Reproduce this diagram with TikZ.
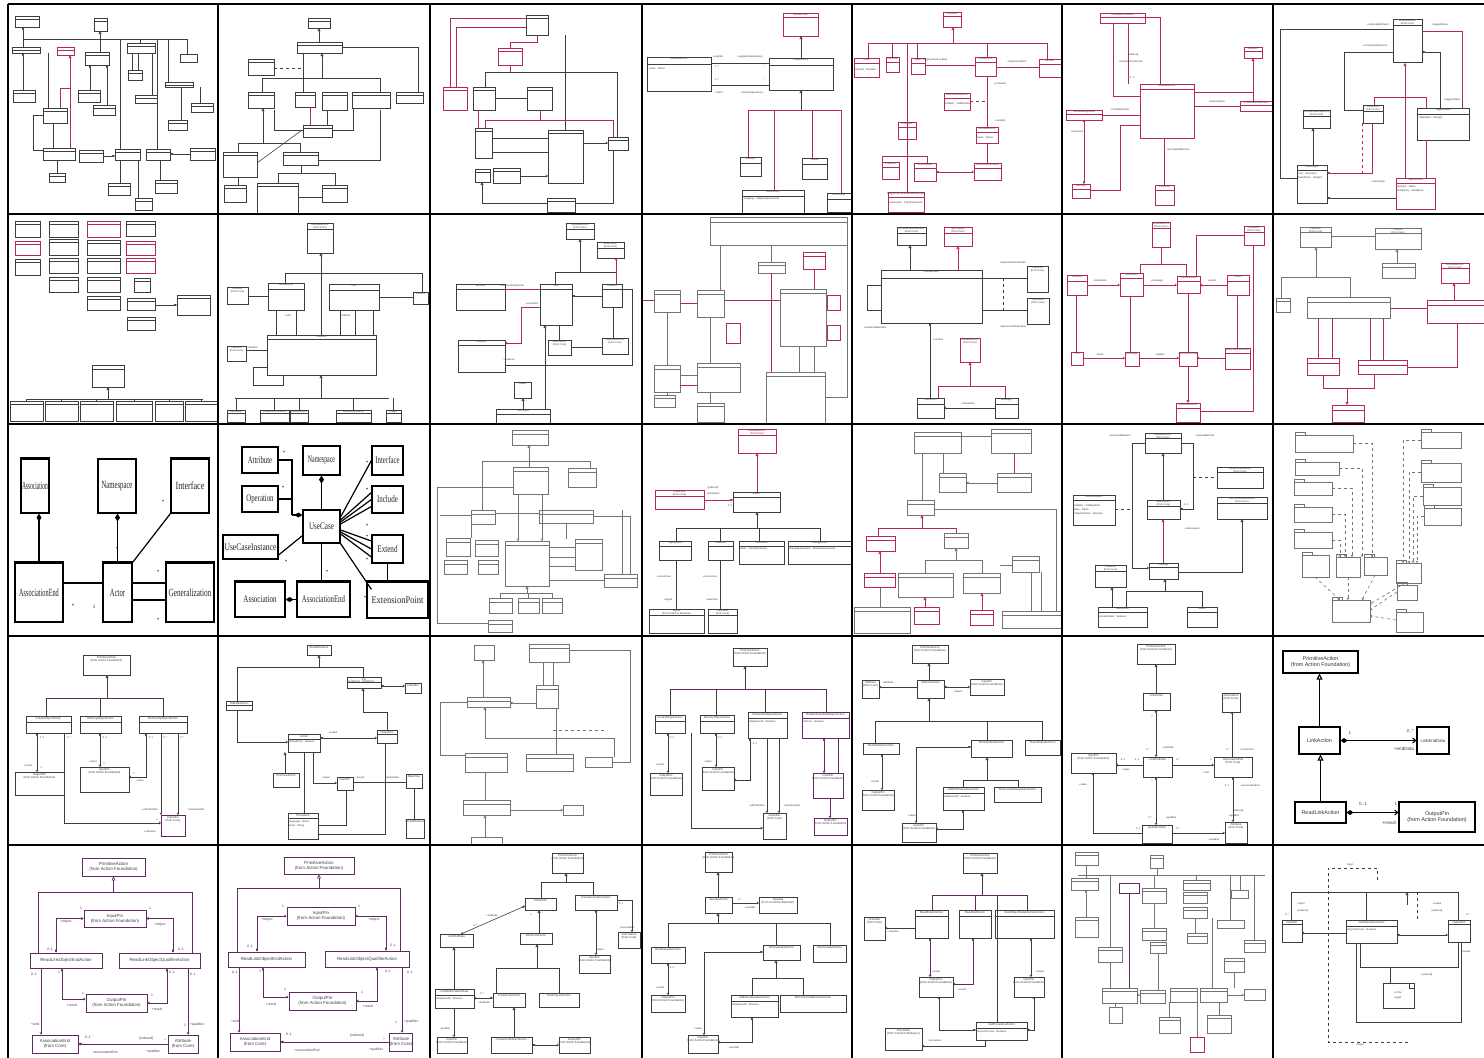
\documentclass[tikz,border=0pt]{standalone}
\usepackage{fontspec}
\usepackage{graphicx}
\setmainfont{Liberation Sans}
\newfontfamily\tnr{Liberation Serif}
\usetikzlibrary{arrows.meta}
\definecolor{lc}{RGB}{62,62,62}
\definecolor{pk}{RGB}{178,42,86}
\definecolor{pu}{RGB}{96,42,96}
\definecolor{lg}{RGB}{115,115,115}
\newcount\bxn
\def\lbfont{\fontsize{2.6}{2.9}\selectfont}
\newcommand\bx[6][]{\global\advance\bxn by 1\relax
  \node[ub,#1,minimum width={(#4-(#2))*1pt},minimum height={(#5-(#3))*1pt},label={[lb]north:{#6}}] (b\the\bxn) at ({(#2+#4)/2},{(#3+#5)/2}) {};}
\newcommand\ml[4][]{\global\advance\bxn by 1\relax\node[mlb,#1] (t\the\bxn) at (#2,#3) {#4};}
\newcommand\pkg[4]{\bx[lgb]{#1}{#2}{#3}{#4}{}\draw[gl] (#1,#2) rectangle ({#1+10},{#2-3});}
\newcommand\sx[2]{\scalebox{#1}[1]{#2}}
\tikzset{
  ub/.style={draw=lc,line width=0.65pt,inner sep=0pt,outer sep=0pt},
  pkb/.style={draw=pk},
  pub/.style={draw=pu},
  lgb/.style={draw=lg},
  lb/.style={font=\lbfont,anchor=north,inner sep=0.7pt,text=lc,align=center},
  mlb/.style={font=\fontsize{2.6}{2.9}\selectfont,inner sep=0pt,text=lc},
  cpx/.style n args={2}{path picture={\draw[line width=0.45pt,#1] ([yshift=-#2]path picture bounding box.north west) -- ([yshift=-#2]path picture bounding box.north east);}},
  cp/.style={cpx={lc}{#1}}, cp/.default=5pt,
  cpp/.style={cpx={pk}{#1}}, cpp/.default=5pt,
  cpu/.style={cpx={pu}{#1}}, cpu/.default=5pt,
  cpg/.style={cpx={lg}{#1}}, cpg/.default=4pt,
  ul/.style={draw=lc,line width=0.6pt},
  pl/.style={draw=pk,line width=0.65pt},
  vl/.style={draw=pu,line width=0.65pt},
  gl/.style={draw=lg,line width=0.6pt},
  tg/.style={-{Triangle[open,length=3pt,width=3pt]}},
  dm/.style={{Diamond[length=3.5pt,width=2.2pt]}-},
  dme/.style={-{Diamond[length=3.5pt,width=2.2pt]}},
  ar/.style={-{Straight Barb[length=1.6pt,width=2.2pt]}},
  dma/.style={{Diamond[length=3.5pt,width=2.2pt]}-{Straight Barb[length=1.6pt,width=2.2pt]}},
  bb/.style={draw=black,line width=1.2pt,inner sep=0pt,font=\tnr\fontsize{11}{12}\selectfont,text=black!85},
  bb2/.style={bb,font=\tnr\fontsize{10}{11}\selectfont},
  cl/.style={draw=black,line width=1.2pt},
  dmb/.style={{Diamond[length=8pt,width=5pt]}-},
  st/.style={font=\tnr\fontsize{5}{5}\selectfont,inner sep=0pt},
  bk/.style={draw=black,line width=1.1pt,inner sep=0pt,font=\fontsize{5.4}{6}\selectfont,align=center,text=black!80},
  bv/.style={draw=pu,line width=0.9pt,inner sep=0pt,font=\fontsize{4.4}{4.9}\selectfont,align=center,text=black!75},
  st5/.style={font=\fontsize{3.4}{3.6}\selectfont,inner sep=0pt,text=black!75},
  grid/.style={draw=black,line width=2.2pt},
}
\begin{document}
\begin{tikzpicture}[x=1pt,y=-1pt]
\useasboundingbox (0,0) rectangle (1484,1058);
\fill[white] (0,0) rectangle (1484,1058);

% ================= ROW 1 =================
% r1c1
\bx[cp=3pt]{15}{16}{39}{27}{}
\bx[cp=3pt]{94}{18}{107}{31}{}
\bx[cp=3pt]{12}{47}{40}{53}{}
\bx[pkb,cpp=3pt]{57}{47}{74}{55}{}
\bx[cp=3pt,line width=0.9pt]{85}{52}{109}{65}{}
\bx[cp=3pt]{127}{43}{155}{53}{}
\bx{180}{54}{197}{62}{}
\bx[cp=3pt]{128}{70}{142}{80}{}
\bx[cp=3pt]{13}{90}{35}{102}{}
\bx[cp=3pt]{78}{90}{100}{102}{}
\bx[cp=3pt]{93}{105}{115}{115}{}
\bx[cp=3pt]{135}{95}{157}{103}{}
\bx[cp=3pt]{165}{82}{193}{87}{}
\bx[cp=3pt]{191}{103}{213}{112}{}
\bx[cp=3pt]{43}{108}{67}{123}{}
\bx[cp=3pt]{168}{120}{187}{130}{}
\bx[cp=3pt,line width=0.9pt]{43}{148}{75}{160}{}
\bx[cp=3pt]{79}{150}{103}{162}{}
\bx[cp=3pt]{115}{149}{140}{160}{}
\bx[cp=3pt]{146}{149}{170}{160}{}
\bx[cp=3pt]{190}{148}{215}{160}{}
\bx[cp=3pt]{49}{173}{65}{182}{}
\bx[cp=3pt]{108}{183}{130}{195}{}
\bx[cp=3pt]{155}{180}{177}{193}{}
\bx[cp=3pt]{135}{198}{152}{210}{}
\draw[ul] (23,39) -- (187,39);
\draw[ul,dm] (23,27)--(23,47);
\draw[ul,tg] (100,52)--(100,31);
\draw[ul] (120,39)--(120,149) (157,39)--(157,149) (168,39)--(168,82) (187,39)--(187,54) (140,39)--(140,43);
\draw[ul,dm] (23,53)--(23,90);
\draw[ul] (48,53)--(48,108) (53,123)--(53,148);
\draw[pl,tg] (70,148)--(70,55);
\draw[pl] (60,88)--(70,88) (60,88)--(60,108);
\draw[ul,dm] (90,65)--(90,90);
\draw[ul,dm] (107,65)--(107,105);
\draw[ul] (132,53)--(132,70) (138,53)--(138,70) (152,53)--(152,95);
\draw[ul] (181,87)--(181,120) (200,87)--(200,103);
\draw[ul,dme] (103,156)--(115,156);
\draw[ul,dme] (190,154)--(170,154);
\draw[ul] (120,160)--(120,183) (138,160)--(138,198) (160,160)--(160,180) (57,160)--(57,173);
\draw[ul] (43,115)--(33,115)--(33,150)--(43,150);

% r1c2
\bx[cp=3pt]{308}{18}{330}{28}{}
\bx[cp=3pt]{297}{42}{342}{53}{}
\bx[cp=3pt,line width=0.9pt]{248}{59}{274}{75}{}
\bx[cp=3pt]{248}{92}{274}{108}{}
\bx[cp=3pt]{295}{92}{315}{107}{}
\bx[cp=3pt]{322}{92}{347}{110}{}
\bx[cp=3pt]{352}{92}{390}{108}{}
\bx[cp=3pt]{396}{92}{423}{103}{}
\bx[cp=3pt]{303}{125}{332}{137}{}
\bx[cp=3pt]{223}{152}{257}{177}{}
\bx[cp=3pt]{283}{152}{318}{165}{}
\bx[cp=3pt]{224}{185}{246}{202}{}
\bx[cp=3pt]{257}{183}{298}{213}{}
\bx[cp=3pt]{322}{185}{347}{202}{}
\draw[ul,tg] (319,42)--(319,28);
\draw[ul] (342,47)--(418,47)--(418,92);
\draw[ul,dashed] (274,68)--(303,68);
\draw[ul] (262,78)--(380,78) (262,78)--(262,92) (380,78)--(380,92) (303,53)--(303,92);
\draw[ul,tg] (322,78)--(322,53);
\draw[pl] (310,107)--(310,125);
\draw[ul] (327,110)--(327,125);
\draw[ul,tg] (263,143)--(263,108);
\draw[ul] (274,110)--(274,130)--(303,130) (353,108)--(353,130)--(332,130) (380,110)--(380,160)--(318,160);
\draw[ul] (238,143)--(300,143) (238,143)--(238,152) (300,143)--(300,152);
\draw[ul] (257,163)--(302,130);
\draw[ul] (238,177)--(238,185) (301,165)--(301,173) (278,173)--(335,173) (278,173)--(278,183) (335,173)--(335,185) (298,197)--(322,197);

% r1c3
\bx[cp=3pt]{526}{15}{548}{35}{}
\bx[pkb,cpp=3pt]{498}{48}{522}{65}{}
\bx[pkb,cpp=3pt]{443}{87}{467}{110}{}
\bx[cp=3pt]{473}{87}{495}{110}{}
\bx[cp=3pt]{527}{87}{552}{110}{}
\bx[cp=3pt]{475}{128}{492}{158}{}
\bx[cp=3pt]{548}{130}{583}{183}{}
\bx[cp=3pt]{608}{137}{628}{150}{}
\bx[cp=3pt]{475}{169}{490}{182}{}
\bx[cp=3pt]{493}{168}{520}{183}{}
\bx[cp=3pt]{547}{198}{575}{212}{}
\draw[pl] (526,18)--(450,18)--(450,87) (526,27)--(456,27)--(456,87);
\draw[pl] (537,35)--(537,42)--(510,42)--(510,48);
\draw[ul] (565,35)--(565,130);
\draw[pl] (510,65)--(510,72);
\draw[ul] (510,72)--(485,72)--(485,87) (510,72)--(617,72)--(617,137);
\draw[ul] (495,98)--(527,98);
\draw[pl] (478,110)--(478,128);
\draw[pl] (540,110)--(540,120)--(485,120)--(485,128) (540,120)--(613,120)--(613,137);
\draw[ul] (492,138)--(548,138) (492,152)--(548,152);
\draw[ul,ar] (583,143)--(608,143);
\draw[ul,ar] (520,176)--(548,176);
\draw[ul,tg] (547,203)--(482,203)--(482,182);
\draw[ul] (575,203)--(613,203)--(613,150);

% r1c4
\bx[pkb,cpp=4pt]{783}{13}{818}{36}{Relationship}
\bx[cp=7pt]{647}{57}{711}{91}{ModelElement}
\ml[anchor=west]{649}{69}{name : Name}
\bx[cp=7pt]{769}{58}{833}{90}{Dependency}
\bx[cp=6pt]{740}{157}{761}{176}{Binding}
\bx[cp=6pt]{742}{190}{804}{213}{Abstraction}
\ml[anchor=west]{744}{199}{mapping : MappingExpression}
\bx[cp=6pt]{802}{158}{827}{179}{Usage}
\bx[cp=6pt]{827}{193}{851}{212}{Permission}
\draw[ul,tg] (801,58)--(801,36);
\draw[ul] (711,63)--(769,63) (711,85)--(769,85);
\draw[ul,tg] (801,110)--(801,90);
\draw[pl] (748,110)--(841,110) (748,110)--(748,157) (774,110)--(774,190) (812,110)--(812,158) (841,110)--(841,193);
\ml{718}{57}{+supplier}
\ml{750}{57}{+supplierDependency}
\ml{717}{67}{1..*}
\ml{764}{67}{*}
\ml{717}{80}{1..*}
\ml{764}{80}{*}
\ml{719}{93}{+client}
\ml{752}{93}{+clientDependency}

% r1c5
\bx[pkb,cpp=4pt]{943}{12}{961}{27}{Classifier}
\bx[pkb,cpp=5pt]{854}{58}{879}{77}{Class}
\ml[anchor=west]{855}{70}{isActive : Boolean}
\bx[pkb,cpp=5pt]{886}{57}{899}{72}{Interface}
\bx[pkb,cpp=5pt]{911}{58}{925}{74}{Node}
\bx[pkb,cpp=5pt]{975}{57}{996}{76}{Component}
\bx[pkb,cpp=5pt]{1039}{59}{1061}{77}{Artifact}
\bx[pkb,cpp=5pt]{944}{93}{970}{110}{ElementResidence}
\ml[anchor=west]{945}{104}{visibility : VisibilityKind}
\bx[pkb,cpp=5pt]{976}{127}{998}{143}{ModelElement}
\ml[anchor=west]{977}{138}{name : Name}
\bx[pkb,cpp=5pt]{898}{122}{916}{139}{DataType}
\bx[pkb,cpp=5pt]{882}{162}{899}{179}{Primitive}
\bx[pkb,cpp=5pt]{914}{163}{936}{181}{Enumeration}
\bx[pkb,cpp=5pt]{974}{163}{1001}{180}{EnumerationLiteral}
\bx[pkb,cpp=5pt]{888}{192}{924}{212}{ProgrammingLanguageDataType}
\ml[anchor=west]{889}{203}{expression : TypeExpression}
\draw[pl,tg] (953,43)--(953,27);
\draw[pl] (868,43)--(1047,43) (868,43)--(868,58) (892,43)--(892,57) (907,43)--(907,192) (917,43)--(917,58) (987,43)--(987,57) (1047,43)--(1047,59);
\draw[pl] (925,65)--(975,65) (996,67)--(1039,67);
\draw[pl] (987,77)--(987,127);
\draw[pl,dashed] (970,101)--(987,101);
\draw[pl] (882,156)--(927,156) (882,156)--(882,162) (927,156)--(927,163);
\draw[pl,dma] (936,172)--(974,172);
\draw[pl] (987,143)--(987,163);
\ml{935}{60}{+deploymentLocation}
\ml{1017}{62}{+implementation}
\ml{1000}{84}{+container}
\ml{1000}{121}{+resident}

% r1c6
\bx[pkb,cpp=4pt]{1100}{13}{1145}{23}{TemplateParameter}
\bx[pkb,cpp=4pt]{1244}{47}{1262}{58}{Element}
\bx[pkb,cpp=5pt]{1140}{84}{1194}{138}{ModelElement}
\bx[pkb,cpp=4pt]{1066}{110}{1102}{120}{TemplateArgument}
\bx[pkb,cpp=4pt]{1240}{101}{1272}{111}{PresentationElement}
\bx[pkb,cpp=5pt]{1072}{184}{1090}{198}{Binding}
\bx[pkb,cpp=5pt]{1155}{185}{1174}{205}{Comment}
\draw[pl] (1113,23)--(1113,96)--(1140,96);
\draw[pl] (1128,23)--(1128,84);
\draw[pl] (1145,17)--(1160,17)--(1160,84);
\draw[pl,tg] (1194,92)--(1253,92)--(1253,58);
\draw[pl] (1253,92)--(1253,101);
\draw[pl] (1194,106)--(1240,106);
\draw[pl] (1102,115)--(1140,115);
\draw[pl,dma] (1084,184)--(1084,120);
\draw[pl] (1090,190)--(1120,190)--(1120,125)--(1140,125);
\draw[pl] (1164,185)--(1164,138);
\ml{1133}{55}{[ordered]}
\ml{1131}{62}{+templateParameter}
\ml{1132}{78}{0..1}
\ml{1150}{10}{*}
\ml{1120}{110}{+modelElement}
\ml{1217}{102}{+presentation}
\ml{1077}{132}{+argument}
\ml{1178}{150}{+annotatedElement}

% r1c7
\bx[cp=6pt]{1393}{19}{1422}{62}{ModelElement\\(from Core)}
\bx[cp=6pt]{1363}{105}{1383}{123}{Constraint\\(from Core)}
\bx[cp=6pt]{1417}{108}{1469}{140}{TaggedValue}
\ml[anchor=west]{1419}{118}{dataValue : String[*]}
\bx[cp=6pt]{1303}{110}{1330}{128}{GeneralizableElement\\(from Core)}
\bx[cp=5pt]{1297}{165}{1327}{203}{Stereotype}
\ml[anchor=west]{1298}{174}{icon : Geometry}
\ml[anchor=west]{1298}{178}{baseClass : Name[*]}
\bx[pkb,cpp=5pt]{1396}{178}{1435}{209}{TagDefinition}
\ml[anchor=west]{1397}{187}{tagType : Name}
\ml[anchor=west]{1397}{191}{multiplicity : Multiplicity}
\draw[pl] (1422,31)--(1462,31)--(1462,108);
\draw[ul] (1393,29)--(1280,29)--(1280,178)--(1297,178);
\draw[ul] (1393,52)--(1344,52)--(1344,110)--(1363,110);
\draw[ul,dm] (1422,52)--(1440,52)--(1440,108);
\draw[pl,tg] (1405,178)--(1405,63);
\draw[pl] (1374,105)--(1374,97)--(1426,97)--(1426,108);
\draw[ul,tg] (1313,165)--(1313,128);
\draw[pl,dashed] (1362,123)--(1362,173);
\draw[pl,dm] (1327,173)--(1372,173)--(1372,123);
\draw[pl] (1426,140)--(1426,178);
\draw[ul,dm] (1327,198)--(1396,198);
\ml{1378}{25}{+extendedElement}
\ml{1440}{25}{+taggedValue}
\ml{1375}{46}{+constrainedElement}
\ml{1452}{100}{+taggedValue}
\ml{1378}{182}{+stereotype}

% ================= ROW 2 =================
% r2c1
\bx[cp=3pt]{15}{221}{40}{237}{}
\bx[cp=3pt]{49}{221}{78}{237}{}
\bx[pkb,cpp=3pt]{87}{221}{120}{237}{}
\bx[cp=3pt]{126}{221}{155}{236}{}
\bx[pkb,cpp=3pt]{15}{241}{40}{255}{}
\bx[cp=3pt]{49}{239}{78}{255}{}
\bx[cp=3pt]{87}{240}{120}{255}{}
\bx[pkb,cpp=3pt]{126}{241}{155}{255}{}
\bx[cp=3pt]{15}{259}{40}{275}{}
\bx[cp=3pt]{49}{258}{78}{273}{}
\bx[cp=3pt]{87}{258}{120}{273}{}
\bx[pkb,cpp=3pt]{126}{258}{155}{273}{}
\bx[cp=3pt]{49}{277}{78}{292}{}
\bx[cp=3pt]{87}{277}{120}{292}{}
\bx[cp=3pt]{134}{278}{150}{292}{}
\bx[cp=3pt]{87}{296}{120}{310}{}
\bx[cp=3pt]{127}{298}{155}{310}{}
\bx[cp=3pt]{177}{295}{210}{315}{}
\bx[cp=3pt]{127}{317}{155}{330}{}
\bx[cp=4pt]{92}{365}{124}{387}{}
\bx[cp=3pt]{10}{401}{43}{421}{}
\bx[cp=3pt]{45}{401}{78}{421}{}
\bx[cp=3pt]{80}{401}{113}{421}{}
\bx[cp=3pt]{116}{401}{152}{421}{}
\bx[cp=3pt]{155}{401}{183}{421}{}
\bx[cp=3pt]{185}{401}{218}{421}{}
\draw[ul,dme] (155,305)--(177,305);
\draw[ul,tg] (108,399)--(108,387);
\draw[ul] (26,399)--(203,399);
\foreach \x in {26,61,96,134,169,201} \draw[ul] (\x,399)--(\x,401);

% r2c2
\bx[cp=6pt]{307}{223}{333}{253}{ModelElement\\(from Core)}
\bx[cp=6pt]{268}{283}{304}{310}{AttributeLink}
\bx[cp=6pt]{329}{284}{379}{310}{Link}
\bx{413}{292}{428}{304}{LinkEnd}
\bx{227}{287}{248}{304}{Attribute\\(from Core)}
\bx[cp=4pt]{267}{335}{376}{375}{Instance}
\bx{227}{346}{246}{361}{Classifier\\(from Core)}
\bx[cp=3pt]{227}{410}{245}{422}{DataValue}
\bx[cp=3pt]{260}{410}{289}{422}{ComponentInstance}
\bx[cp=3pt]{290}{410}{308}{422}{NodeInstance}
\bx[cp=3pt]{336}{410}{371}{422}{UseCaseInstance}
\bx[cp=3pt]{386}{410}{401}{422}{Object}
\draw[ul,tg] (321,273)--(321,253);
\draw[ul] (285,273)--(422,273) (285,273)--(285,283) (422,273)--(422,292) (321,273)--(321,335);
\draw[ul,tg] (321,398)--(321,375);
\draw[ul] (235,398)--(389,398);
\foreach \x in {236,274,299,353,393} \draw[ul] (\x,398)--(\x,410);
\draw[ul] (248,296)--(268,296) (379,297)--(413,297);
\draw[ul] (276,310)--(276,335) (296,310)--(296,335) (340,310)--(340,335) (355,310)--(355,335) (373,310)--(373,335);
\draw[ul] (246,350)--(267,350);
\draw[ul] (267,367)--(253,367)--(253,385)--(283,385)--(283,375);
\ml{288}{316}{+slot}
\ml{345}{316}{+linkEnd}
\ml{252}{348}{+classifier}

% r2c3
\bx[cp=6pt]{566}{223}{594}{239}{ModelElement\\(from Core)}
\bx[cp=6pt]{597}{242}{624}{258}{Association\\(from Core)}
\bx[cp=5pt]{456}{284}{505}{310}{Stimulus}
\bx[cp=5pt]{540}{284}{572}{325}{Link}
\bx[cp=5pt]{602}{284}{622}{307}{LinkEnd}
\bx[cp=5pt]{458}{340}{505}{372}{Instance}
\bx{548}{340}{571}{355}{Association\\(from Core)}
\bx{602}{338}{628}{354}{AssociationEnd\\(from Core)}
\bx{514}{382}{531}{398}{Object}
\bx[cp=5pt]{496}{409}{550}{423}{LinkObject}
\draw[ul,tg] (580,272)--(580,239);
\draw[ul] (555,272)--(616,272) (555,272)--(555,284);
\draw[pl,ar] (616,284)--(616,258);
\draw[pl] (505,289)--(540,289);
\draw[ul,dme] (602,296)--(572,296);
\draw[pl,ar] (540,307)--(521,307)--(521,343)--(505,343);
\draw[ul] (559,325)--(559,340) (571,347)--(602,347) (613,307)--(613,338);
\draw[ul] (505,365)--(632,365)--(632,289)--(622,289);
\draw[ul,tg] (545,409)--(545,325);
\draw[ul,tg] (523,409)--(523,398);
\ml{512}{286}{+communicationLink}
\ml{532}{304}{+conection}
\ml{509}{360}{+instance}

% r2c4
\bx[lgb,cpg=5pt]{710}{217}{847}{245}{}
\bx[lgb,cpg=3pt]{758}{262}{785}{273}{}
\bx[pkb,cpp=4pt]{803}{252}{825}{269}{}
\bx[lgb,cpg=4pt]{780}{289}{826}{346}{}
\bx[pkb]{827}{295}{840}{310}{}
\bx[pkb]{827}{325}{840}{340}{}
\bx[lgb,cpg=4pt]{766}{372}{825}{423}{}
\bx[lgb,cpg=4pt]{654}{290}{680}{312}{}
\bx[lgb,cpg=4pt]{697}{290}{724}{317}{}
\bx[pkb]{726}{323}{740}{343}{}
\bx[lgb,cpg=4pt]{654}{365}{680}{392}{}
\bx[lgb,cpg=4pt]{697}{363}{740}{392}{}
\bx[lgb,cpg=3pt]{654}{395}{675}{407}{}
\bx[lgb,cpg=3pt]{697}{403}{724}{422}{}
\draw[gl] (771,245)--(771,262);
\draw[pl] (771,273)--(771,372);
\draw[gl] (799,346)--(799,372) (814,346)--(814,372);
\draw[gl] (847,245)--(847,397)--(825,397);
\draw[pl] (642,300)--(654,300) (680,303)--(697,303) (724,300)--(780,300) (814,269)--(814,289) (680,385)--(697,385);
\draw[gl] (667,312)--(667,365) (710,317)--(710,363) (680,375)--(697,375) (720,245)--(720,290) (667,392)--(667,395) (710,392)--(710,403);

% r2c5
\bx[cp=6pt]{897}{227}{926}{245}{GeneralizableElement\\(from Core)}
\bx[pkb,cpp=6pt]{944}{227}{972}{246}{Namespace\\(from Core)}
\bx[cp=8pt]{881}{270}{982}{323}{Collaboration}
\bx{1027}{266}{1048}{292}{Classifier\\(from Core)}
\bx{1027}{298}{1049}{324}{Operation\\(from Core)}
\bx[pkb]{960}{338}{980}{362}{ModelElement\\(from Core)}
\bx[cp=6pt]{917}{398}{944}{418}{Interaction}
\bx[cp=6pt]{995}{398}{1018}{418}{Message}
\draw[ul,tg] (910,270)--(910,245);
\draw[pl,tg] (958,270)--(958,246);
\draw[ul] (982,278)--(1027,278) (982,310)--(1027,310);
\draw[ul,dashed] (1003,278)--(1003,310);
\draw[ul] (881,285)--(867,285)--(867,310)--(881,310);
\draw[ul,dm] (930,323)--(930,398);
\draw[pl,tg] (970,386)--(970,362);
\draw[pl] (938,386)--(1005,386) (938,386)--(938,398) (1005,386)--(1005,398);
\draw[ul,ar] (995,408)--(944,408);
\ml{1013}{263}{+representedClassifier}
\ml{1013}{327}{+representedOperation}
\ml{875}{328}{+usedCollaboration}
\ml{938}{340}{+context}
\ml{968}{404}{+interaction}

% r2c6
\bx[pkb,cpp=6pt]{1152}{222}{1170}{247}{ModelElement\\(from Core)}
\bx[pkb,cpp=6pt]{1244}{226}{1264}{245}{Classifier\\(from Core)}
\bx[pkb,cpp=6pt]{1067}{275}{1087}{295}{Stimulus}
\bx[pkb,cpp=5pt]{1120}{273}{1143}{296}{Interaction}
\bx[pkb,cpp=5pt]{1177}{276}{1200}{293}{ClassifierRole}
\bx[pkb,cpp=6pt]{1227}{275}{1249}{295}{Action}
\bx[pkb]{1071}{352}{1083}{365}{Link}
\bx[pkb]{1125}{352}{1139}{366}{Message}
\bx[pkb]{1179}{352}{1197}{366}{AssociationRole}
\bx[pkb,cpp=5pt]{1225}{348}{1250}{369}{AssociationEndRole}
\bx[pkb,cpp=5pt]{1176}{403}{1200}{422}{AssociationEnd}
\draw[pl,ar] (1087,285)--(1120,285);
\draw[pl,ar] (1143,285)--(1177,285);
\draw[pl,ar] (1227,285)--(1200,285);
\draw[pl] (1140,273)--(1140,264)--(1186,264)--(1186,276) (1161,247)--(1161,264);
\draw[pl] (1196,276)--(1196,235)--(1244,235);
\draw[pl] (1076,295)--(1076,352) (1130,296)--(1130,352) (1188,293)--(1188,352) (1237,295)--(1237,348);
\draw[pl,ar] (1083,358)--(1125,358);
\draw[pl,ar] (1139,358)--(1179,358);
\draw[pl,ar] (1225,358)--(1197,358);
\draw[pl,tg] (1188,366)--(1188,403);
\draw[pl] (1253,245)--(1253,411)--(1200,411);
\ml{1100}{281}{+interaction}
\ml{1157}{281}{+message}
\ml{1212}{281}{+action}
\ml{1100}{355}{+base}
\ml{1160}{355}{+sender}

% r2c7
\bx[lgb,cpg=5pt]{1300}{227}{1331}{247}{Classifier\\(from Core)}
\bx[lgb,cpg=5pt]{1375}{228}{1421}{249}{Feature\\(from Core)}
\bx[lgb,cpg=4pt,line width=1pt]{1382}{263}{1415}{278}{}
\bx[lgb,cpg=3pt]{1276}{298}{1290}{312}{}
\bx[lgb,cpg=5pt]{1307}{297}{1390}{318}{}
\bx[pkb,cpp=5pt]{1441}{263}{1469}{283}{ModelElement\\(from Core)}
\bx[pkb,cpp=5pt]{1427}{300}{1484}{323}{}
\bx[pkb,cpp=5pt]{1307}{358}{1339}{375}{}
\bx[pkb,cpp=5pt]{1358}{360}{1407}{374}{}
\bx[pkb,cpp=5pt]{1332}{405}{1364}{422}{}
\draw[gl] (1331,236)--(1375,236);
\draw[gl,tg] (1397,263)--(1397,249);
\draw[gl,tg] (1316,277)--(1316,247);
\draw[gl] (1281,277)--(1350,277) (1281,277)--(1281,298) (1350,277)--(1350,297);
\draw[pl,tg] (1454,300)--(1454,283);
\draw[pl] (1390,308)--(1427,308);
\draw[pl] (1318,318)--(1318,358) (1332,318)--(1332,358) (1370,318)--(1370,360) (1383,318)--(1383,360);
\draw[pl] (1407,367)--(1457,367)--(1457,323);
\draw[pl] (1323,375)--(1323,388)--(1374,388)--(1374,374);
\draw[pl,tg] (1347,388)--(1347,405);

% ================= ROW 3 =================
% r3c1
\node[bb,minimum width=28pt,minimum height=54pt] (r3a) at (35,486) {\sx{0.5}{Association}};
\node[bb,minimum width=38pt,minimum height=54pt] (r3n) at (117,486) {\sx{0.61}{Namespace}};
\node[bb,minimum width=38pt,minimum height=54pt] (r3i) at (190,486) {\sx{0.74}{Interface}};
\node[bb,minimum width=48pt,minimum height=59pt] (r3e) at (39,592.5) {\sx{0.57}{AssociationEnd}};
\node[bb,minimum width=29pt,minimum height=59pt] (r3c) at (117.5,592.5) {\sx{0.6}{Actor}};
\node[bb,minimum width=48pt,minimum height=59pt] (r3g) at (190,592.5) {\sx{0.66}{Generalization}};
\foreach \n in {r3a,r3i,r3e,r3c,r3g} \draw[line width=3pt] (\n.north west) -- (\n.north east);
\draw[cl,dmb] (r3e.north |- r3a.south) -- (r3e.north);
\draw[cl,dmb] (r3c.north |- r3n.south) -- (r3c.north);
\draw[cl] (r3i.south west) -- (r3c.north east);
\draw[cl] ([yshift=9.5pt]r3e.east) -- ([yshift=9.5pt]r3c.west);
\draw[cl] ([yshift=9.5pt]r3c.east) -- ([yshift=9.5pt]r3g.west);
\draw[cl,line width=2.6pt] ([yshift=-7.5pt]r3c.east) -- ([yshift=-7.5pt]r3g.west);
\node[st] (s31) at (73,606) {*};
\node[st] (s32) at (94,607) {1};
\node[st] (s33) at (117,549) {*};
\node[st] (s34) at (163,502) {*};
\node[st] (s35) at (158,572) {*};
\node[st] (s36) at (158,620) {*};

% r3c2
\node[bb2,minimum width=36pt,minimum height=26pt] (q1) at (260,460) {\sx{0.67}{Attribute}};
\node[bb2,minimum width=37pt,minimum height=29pt] (q2) at (321.5,460.5) {\sx{0.59}{Namespace}};
\node[bb2,minimum width=31pt,minimum height=29pt] (q3) at (387.5,460.5) {\sx{0.68}{Interface}};
\node[bb2,minimum width=36pt,minimum height=26pt] (q4) at (260,499) {\sx{0.68}{Operation}};
\node[bb2,minimum width=37pt,minimum height=33pt] (q5) at (321.5,526.5) {\sx{0.71}{UseCase}};
\node[bb2,minimum width=31pt,minimum height=27pt] (q6) at (387.5,499.5) {\sx{0.70}{Include}};
\node[bb2,minimum width=55pt,minimum height=24pt] (q7) at (250.5,547) {\sx{0.76}{UseCaseInstance}};
\node[bb2,minimum width=31pt,minimum height=28pt] (q8) at (387.5,549) {\sx{0.71}{Extend}};
\node[bb2,minimum width=50pt,minimum height=35pt] (q9) at (260,599.5) {\sx{0.70}{Association}};
\node[bb2,minimum width=53pt,minimum height=35pt] (q10) at (323.5,599.5) {\sx{0.68}{AssociationEnd}};
\node[bb2,minimum width=61pt,minimum height=36pt] (q11) at (397.5,600) {\sx{0.85}{ExtensionPoint}};
\foreach \n in {q9,q10,q11} \draw[line width=3pt] (\n.north west) -- (\n.north east);
\coordinate (qj) at (292,515);
\draw[cl] (q1.east) -| (qj);
\draw[cl] (q4.east) -| (qj);
\draw[cl,-{Diamond[length=8pt,width=5pt]}] (qj) -- (q5.west |- qj);
\draw[cl,dmb] (q2.south) -- (q5.north);
\draw[cl] ([yshift=-8pt]q7.east) -- ([yshift=8pt]q5.south west);
\draw[cl] ([yshift=9.5pt]q5.east) -- (q3.west);
\draw[cl] ([yshift=6.5pt]q5.east) -- ([yshift=7pt]q6.west);
\draw[cl] ([yshift=4.5pt]q5.east) -- (q6.west);
\draw[cl] ([yshift=2.5pt]q5.east) -- ([yshift=-7pt]q6.west);
\draw[cl] ([yshift=-3.5pt]q5.east) -- ([yshift=8pt]q8.west);
\draw[cl] ([yshift=-5.5pt]q5.east) -- (q8.west);
\draw[cl] ([yshift=-7.5pt]q5.east) -- ([yshift=-8pt]q8.west);
\draw[cl] (q5.south east) -- ([xshift=5pt,yshift=-8pt]q11.north west);
\draw[cl,line width=0.6pt] (q5.south) -- (q5.south |- q10.north);
\draw[cl,dmb] (q9.east) -- (q10.west);
\draw[cl] (q8.south) -- (q8.south |- q11.north);
\node[st] (s41) at (284,453) {*};
\node[st] (s42) at (283,488) {*};
\node[st] (s43) at (286,562) {*};
\node[st] (s44) at (327,572) {*};
\node[st] (s45) at (367,463) {*};
\node[st] (s46) at (367,490) {*};
\node[st] (s47) at (367,526) {*};
\node[st] (s48) at (367,537) {*};
\node[st] (s49) at (367,560) {*};
\node[st] (s50) at (365,598) {*};

% r3c3
\bx[lgb,cpg]{512}{430}{548}{445}{}
\bx[lgb,cpg]{513}{467}{548}{494}{}
\bx[lgb,cpg]{568}{468}{596}{487}{}
\bx[lgb,cpg]{471}{510}{495}{524}{}
\bx[lgb,cpg]{539}{510}{593}{523}{}
\bx[lgb,cpg]{505}{541}{549}{586}{}
\bx[lgb,cpg]{575}{539}{602}{570}{}
\bx[lgb,cpg]{446}{538}{470}{556}{}
\bx[lgb,cpg]{475}{540}{498}{556}{}
\bx[lgb,cpg]{444}{560}{467}{574}{}
\bx[lgb,cpg]{478}{560}{498}{574}{}
\bx[lgb,cpg]{604}{574}{637}{587}{}
\bx[lgb,cpg]{489}{598}{512}{613}{}
\bx[lgb,cpg]{518}{598}{539}{613}{}
\bx[lgb,cpg]{542}{598}{562}{613}{}
\bx[lgb,cpg]{488}{620}{512}{632}{}
\draw[gl,tg] (529,467)--(529,445);
\draw[gl] (482,461)--(590,461)--(590,468) (482,461)--(482,510);
\draw[gl] (437,487)--(437,623)--(488,623) (437,487)--(513,487) (440,515)--(471,515) (495,513)--(539,513);
\draw[gl,ar] (518,494)--(518,541);
\draw[gl,ar] (542,494)--(542,541);
\draw[gl] (549,547)--(575,547) (549,557)--(575,557) (549,566)--(575,566) (622,510)--(622,574) (549,580)--(604,580);
\draw[gl,tg] (527,593)--(527,586);
\draw[gl] (500,593)--(552,593) (500,593)--(500,598) (528,593)--(528,598) (552,593)--(552,598) (471,524)--(471,538) (566,523)--(566,539) (593,516)--(630,516)--(630,574);

% r3c4
\bx[pkb,cpp=6pt]{738}{429}{776}{453}{ModelElement\\(from Core)}
\bx[pkb,cpp=6pt]{655}{490}{704}{509}{Parameter\\(from Core)}
\bx[cp=5pt]{733}{492}{780}{512}{Event}
\bx[cp=5pt]{659}{541}{691}{560}{SignalEvent}
\bx[cp=5pt]{708}{541}{733}{560}{CallEvent}
\bx[cp=5pt]{739}{541}{784}{564}{TimeEvent}
\ml[anchor=west]{740}{549}{when : TimeExpression}
\bx[cp=5pt]{788}{541}{851}{564}{ChangeEvent}
\ml[anchor=west]{789}{549}{changeExpression : BooleanExpression}
\bx[cp=6pt]{649}{609}{704}{633}{Signal\\(from Common Behavior)}
\bx[cp=6pt]{708}{609}{737}{633}{Operation\\(from Core)}
\draw[pl,-{Diamond[length=3.5pt,width=2.2pt]}] (704,500)--(733,500);
\draw[pl,tg] (757,492)--(757,453);
\draw[ul,tg] (757,528)--(757,512);
\draw[ul] (676,528)--(820,528) (676,528)--(676,541) (720,528)--(720,541) (759,528)--(759,541) (820,528)--(820,541);
\draw[ul] (676,560)--(676,609) (720,560)--(720,609);
\ml{713}{488}{[ordered]}
\ml{713}{494}{+parameter}
\ml{706}{504}{*}
\ml{730}{506}{0..1}
\ml{664}{577}{+occurrence}
\ml{710}{577}{+occurrence}
\ml{668}{600}{+signal}
\ml{712}{600}{+operation}

% r3c5
\bx[lgb,cpg]{914}{432}{961}{453}{}
\bx[lgb,cpg]{991}{429}{1031}{453}{}
\bx[lgb,cpg]{939}{473}{966}{492}{}
\bx[lgb,cpg]{997}{473}{1031}{492}{}
\bx[lgb,cpg]{907}{500}{934}{515}{}
\bx[pkb,cpp=4pt]{866}{536}{895}{551}{}
\bx[lgb,cpg]{944}{533}{968}{548}{}
\bx[pkb,cpp=4pt]{864}{573}{895}{587}{}
\bx[lgb,cpg]{898}{573}{953}{597}{}
\bx[lgb,cpg]{963}{573}{1000}{593}{}
\bx[lgb,cpg]{1012}{556}{1039}{572}{}
\bx[pkb,cpp=4pt]{914}{607}{939}{624}{}
\bx[pkb,cpp=4pt]{970}{610}{993}{625}{}
\bx[lgb,cpg]{854}{607}{910}{633}{}
\bx[lgb,cpg]{1002}{611}{1061}{628}{}
\draw[gl] (961,436)--(991,436) (922,453)--(922,500) (943,453)--(943,473);
\draw[pl] (1014,453)--(1014,473);
\draw[gl,dme] (997,483)--(966,483);
\draw[gl] (934,509)--(1056,509)--(1056,611);
\draw[pl,tg] (922,528)--(922,515);
\draw[pl] (878,528)--(956,528) (878,528)--(878,536) (956,528)--(956,533);
\draw[gl,tg] (956,560)--(956,548);
\draw[gl] (925,560)--(982,560) (925,560)--(925,573) (982,560)--(982,573);
\draw[pl,tg] (880,573)--(880,551);
\draw[pl,tg] (925,607)--(925,597);
\draw[pl,tg] (982,610)--(982,593);
\draw[gl] (880,587)--(880,607) (1031,572)--(1031,611) (1041,572)--(1041,611) (1000,565)--(1012,565);

% r3c6
\bx[cp=5pt]{1145}{433}{1181}{453}{ModelElement\\(from Core)}
\bx[cp=5pt]{1217}{467}{1263}{488}{ElementOwnership\\(from Core)}
\bx[cp=5pt]{1073}{495}{1115}{525}{ElementImport}
\ml[anchor=west]{1074}{506}{visibility : VisibilityKind}
\ml[anchor=west]{1074}{510}{alias : Name}
\ml[anchor=west]{1074}{514}{isSpecification : Boolean}
\bx[cp=6pt]{1147}{500}{1180}{519}{Namespace\\(from Core)}
\bx[cp=6pt]{1217}{497}{1267}{519}{GeneralizableElement\\(from Core)}
\bx[cp=4pt]{1149}{563}{1178}{579}{Package}
\bx[cp=6pt]{1095}{565}{1126}{587}{Classifier\\(from Core)}
\bx[cp=5pt]{1098}{607}{1147}{627}{Subsystem}
\ml[anchor=west]{1099}{617}{isInstantiable : Boolean}
\bx[cp=5pt]{1187}{607}{1217}{627}{Model}
\draw[ul,ar] (1145,443)--(1132,443)--(1132,568)--(1149,568);
\draw[ul,dme] (1181,443)--(1193,443)--(1193,509)--(1180,509);
\draw[ul,dashed] (1193,477)--(1217,477);
\draw[ul,dashed] (1115,509)--(1132,509);
\draw[ul,tg] (1163,500)--(1163,453);
\draw[pl,tg] (1163,563)--(1163,519);
\draw[ul,tg] (1178,572)--(1242,572)--(1242,519);
\draw[ul,tg] (1165,591)--(1165,579);
\draw[ul] (1126,591)--(1202,591) (1126,591)--(1126,607) (1202,591)--(1202,607);
\draw[ul,tg] (1112,607)--(1112,587);
\ml{1120}{436}{+importedElement}
\ml{1205}{436}{+ownedElement}
\ml{1192}{529}{+namespace}
\ml{1186}{505}{0..1}

% r3c7
\pkg{1295}{435}{1353}{452}
\pkg{1295}{462}{1339}{475}
\pkg{1294}{482}{1332}{495}
\pkg{1294}{507}{1332}{522}
\pkg{1294}{532}{1332}{548}
\pkg{1421}{432}{1461}{448}
\pkg{1421}{463}{1461}{482}
\pkg{1423}{487}{1461}{505}
\pkg{1424}{508}{1461}{525}
\pkg{1302}{555}{1329}{577}
\pkg{1336}{557}{1360}{577}
\pkg{1364}{557}{1387}{575}
\pkg{1396}{563}{1421}{583}
\pkg{1397}{585}{1417}{600}
\pkg{1396}{612}{1423}{632}
\pkg{1332}{600}{1370}{622}
\draw[gl,dashed,ar] (1353,443)--(1372,443)--(1372,557);
\draw[gl,dashed,ar] (1339,468)--(1362,468)--(1362,557);
\draw[gl,dashed,ar] (1332,488)--(1352,488)--(1352,557);
\draw[gl,dashed,ar] (1332,514)--(1345,514)--(1345,557);
\draw[gl,dashed,ar] (1332,540)--(1340,540)--(1340,557);
\draw[gl,dashed,ar] (1421,440)--(1403,440)--(1403,563);
\draw[gl,dashed,ar] (1421,472)--(1409,472)--(1409,563);
\draw[gl,dashed,ar] (1423,496)--(1413,496)--(1413,563);
\draw[gl,dashed,ar] (1424,516)--(1417,516)--(1417,563);
\draw[gl,dashed,ar] (1315,577)--(1340,600);
\draw[gl,dashed,ar] (1348,577)--(1348,600);
\draw[gl,dashed,ar] (1375,575)--(1362,600);
\draw[gl,dashed,ar] (1405,583)--(1370,604);
\draw[gl,dashed,ar] (1397,592)--(1370,610);
\draw[gl,dashed,ar] (1396,620)--(1370,616);

% ================= ROW 4 =================
\def\lbfont{\fontsize{2.9}{3.3}\selectfont}
% r4c1
\bx{83}{655}{130}{675}{PrimitiveAction\\(from Action Foundation)}
\bx[cp=6pt]{26}{716}{71}{733}{CreateObjectAction}
\bx[cp=6pt]{80}{716}{121}{733}{DestroyObjectAction}
\bx[cp=6pt]{139}{716}{187}{733}{ReclassifyObjectAction}
\bx{15}{772}{64}{795}{OutputPin\\(from Action Foundation)}
\bx{80}{767}{129}{792}{InputPin\\(from Action Foundation)}
\bx[pub]{161}{815}{185}{836}{Classifier\\(from Core)}
\draw[ul,tg] (107,698)--(107,675);
\draw[vl] (46,698)--(163,698);
\draw[ul] (46,698)--(46,716) (100,698)--(100,716) (163,698)--(163,716);
\draw[ul,dma] (37,733)--(37,772);
\draw[ul,dma] (100,733)--(100,767);
\draw[ul,dma] (146,733)--(146,777)--(129,777);
\draw[ul,ar] (161,733)--(161,815);
\draw[ul,ar] (178,733)--(178,815);
\draw[ul,ar] (64,733)--(64,823)--(161,823);
\ml{42}{738}{0..1}
\ml{69}{738}{0..*}
\ml{28}{766}{+result}
\ml{41}{768}{1}
\ml{105}{738}{0..1}
\ml{93}{762}{+input}
\ml{104}{764}{1}
\ml{151}{738}{0..1}
\ml{134}{774}{1}
\ml{140}{781}{+input}
\ml{165}{738}{0..*}
\ml{182}{738}{0..*}
\ml{150}{810}{+oldClassifier}
\ml{196}{810}{+newClassifier}
\ml{157}{820}{1}
\ml{150}{832}{+classifier}

% r4c2
\bx{307}{645}{331}{655}{ModelElement}
\bx[cp=4pt]{226}{701}{252}{710}{StateMachine}
\bx[cp=5pt]{347}{677}{381}{688}{Pin}
\ml[anchor=west]{348}{682}{multiplicity : Multiplicity}
\bx{405}{683}{421}{693}{Classifier}
\bx[cp=5pt]{288}{734}{320}{752}{Action}
\ml[anchor=west]{289}{742}{isReadOnly : Boolean}
\bx[cp=4pt]{377}{730}{397}{743}{OutputPin}
\bx{337}{777}{353}{790}{InputPin}
\bx{406}{774}{422}{788}{DataFlow}
\bx{273}{773}{299}{787}{PrimitiveAction}
\bx[cp=5pt]{288}{813}{318}{839}{Procedure}
\ml[anchor=west]{289}{822}{language : Name}
\ml[anchor=west]{289}{826}{body : String}
\bx{406}{819}{424}{838}{ModelElement}
\draw[ul,tg] (319,667)--(319,655);
\draw[ul] (237,667)--(363,667) (237,667)--(237,701) (363,667)--(363,677);
\draw[ul,ar] (237,710)--(237,742)--(288,742);
\draw[ul,dma] (381,686)--(405,686);
\draw[ul,tg] (387,730)--(387,712)--(363,712)--(363,688);
\draw[ul,dma] (320,738)--(377,738);
\draw[ul,tg] (285,773)--(285,752);
\draw[ul] (304,752)--(304,813);
\draw[ul,ar] (313,752)--(313,783)--(337,783);
\draw[ul] (353,782)--(406,782) (414,788)--(414,819);
\draw[ul] (385,743)--(385,834)--(318,834) (346,790)--(346,825)--(318,825);
\ml{333}{733}{+output}
\ml{326}{778}{+input}
\ml{360}{778}{+source}
\ml{392}{778}{+destination}

% r4c3
\bx[lgb]{474}{645}{494}{660}{}
\bx[lgb,cpg]{529}{644}{569}{662}{}
\bx[lgb,cpg]{536}{685}{558}{708}{}
\bx[lgb,cpg]{467}{697}{510}{707}{}
\bx[lgb,cpg]{465}{753}{507}{772}{}
\bx[lgb,cpg]{526}{754}{573}{771}{}
\bx[lgb]{585}{757}{612}{767}{}
\bx[lgb,cpg]{463}{800}{510}{815}{}
\bx[lgb]{563}{805}{583}{815}{}
\bx[lgb]{471}{837}{502}{845}{}
\draw[gl] (569,650)--(630,650)--(630,762)--(612,762);
\draw[gl,tg] (483,697)--(483,660);
\draw[gl,dme] (536,703)--(510,703);
\draw[gl] (543,662)--(543,685) (553,662)--(553,685);
\draw[gl] (467,702)--(440,702)--(440,755)--(465,755);
\draw[gl,tg] (614,757)--(614,738)--(485,738)--(485,707);
\draw[gl] (556,708)--(556,754);
\draw[gl,dashed] (553,730)--(607,730);
\draw[gl] (485,772)--(485,800);
\draw[gl,ar] (510,810)--(563,810);
\draw[gl,tg] (485,837)--(485,815);

% r4c4
\bx{733}{648}{767}{666}{PrimitiveAction\\(from Action Foundation)}
\bx[cp=6pt]{655}{715}{685}{733}{CreateObjectAction}
\bx[cp=6pt]{700}{715}{734}{733}{DestroyObjectAction}
\bx[cp=6pt]{748}{712}{787}{738}{ReclassifyObjectAction}
\ml[anchor=west]{749}{722}{isReplaceAll : Boolean}
\bx[pub,cpu=6pt]{802}{712}{849}{738}{ReadIsClassifiedObjectAction}
\ml[anchor=west]{803}{722}{isDirect : Boolean}
\bx{650}{773}{682}{795}{OutputPin\\(from Action Foundation)}
\bx{702}{767}{734}{790}{InputPin\\(from Action Foundation)}
\bx[pub]{813}{773}{843}{798}{InputPin\\(from Action Foundation)}
\bx{763}{813}{786}{839}{Classifier\\(from Core)}
\bx[pub]{814}{818}{847}{835}{OutputPin\\(from Action Foundation)}
\draw[ul,tg] (745,689)--(745,666);
\draw[vl] (670,689)--(826,689) (826,689)--(826,712);
\draw[ul] (670,689)--(670,715) (716,689)--(716,715) (765,689)--(765,712);
\draw[ul,dma] (668,733)--(668,773);
\draw[ul,dma] (716,733)--(716,767);
\draw[ul,dma] (750,738)--(750,780)--(734,780);
\draw[ul,ar] (767,738)--(767,813);
\draw[ul,ar] (779,738)--(779,813);
\draw[ul,ar] (691,733)--(691,828)--(763,828);
\draw[vl,dma] (824,738)--(824,773);
\draw[vl] (838,738)--(838,773);
\draw[vl,ar] (830,798)--(830,818);
\ml{672}{738}{0..1}
\ml{720}{738}{0..1}
\ml{755}{744}{0..1}
\ml{660}{765}{+result}
\ml{708}{762}{+input}
\ml{757}{806}{+oldClassifier}
\ml{792}{806}{+newClassifier}

% r4c5
\bx{912}{645}{948}{663}{PrimitiveAction\\(from Action Foundation)}
\bx{917}{680}{944}{698}{AttributeAction}
\bx{862}{680}{879}{698}{Attribute\\(from Core)}
\bx{970}{679}{1004}{695}{InputPin\\(from Action Foundation)}
\bx{863}{743}{899}{754}{ReadAttributeAction}
\bx{971}{740}{1012}{757}{WriteAttributeAction}
\bx{1025}{740}{1060}{755}{ClearAttributeAction}
\bx{862}{790}{894}{810}{OutputPin\\(from Action Foundation)}
\bx{902}{823}{936}{842}{InputPin\\(from Action Foundation)}
\bx[cp=6pt]{943}{787}{984}{810}{AddAttributeValueAction}
\ml[anchor=west]{944}{797}{isReplaceAll : Boolean}
\bx{994}{787}{1041}{802}{RemoveAttributeValueAction}
\draw[ul,tg] (929,680)--(929,663);
\draw[ul,ar] (917,687)--(879,687);
\draw[ul,dma] (944,687)--(970,687);
\draw[ul,tg] (929,721)--(929,698);
\draw[ul] (875,721)--(1042,721) (875,721)--(875,743) (987,721)--(987,740) (1042,721)--(1042,740);
\draw[ul,dma] (882,754)--(882,790);
\draw[ul,dma] (971,747)--(916,747)--(916,823);
\draw[ul,tg] (987,780)--(987,757);
\draw[ul] (963,780)--(1018,780) (963,780)--(963,787) (1018,780)--(1018,787);
\draw[ul,dma] (963,810)--(963,829)--(936,829);
\ml{888}{683}{+attribute}
\ml{958}{692}{+object}
\ml{875}{782}{+result}
\ml{912}{816}{+value}

% r4c6
\bx{1137}{644}{1175}{664}{PrimitiveAction\\(from Action Foundation)}
\bx{1143}{693}{1170}{710}{LinkAction}
\bx{1222}{693}{1240}{712}{Association\\(from Core)}
\bx{1143}{757}{1172}{777}{LinkEndData}
\bx{1071}{753}{1116}{773}{InputPin\\(from Action Foundation)}
\bx{1214}{757}{1252}{777}{AssociationEnd\\(from Core)}
\bx{1142}{825}{1172}{843}{QualifierValue}
\bx{1225}{822}{1247}{843}{Attribute\\(from Core)}
\draw[ul,tg] (1156,693)--(1156,664);
\draw[ul,dma] (1156,710)--(1156,757);
\draw[ul,ar] (1143,765)--(1116,765);
\draw[ul,ar] (1172,765)--(1214,765);
\draw[ul,ar] (1232,757)--(1232,712);
\draw[ul,dma] (1156,777)--(1156,825);
\draw[ul,ar] (1142,833)--(1093,833)--(1093,773);
\draw[ul,ar] (1172,833)--(1225,833);
\draw[ul,dma] (1233,777)--(1233,822);
\ml{1152}{717}{1}
\ml{1148}{750}{2..*}
\ml{1168}{748}{+endData}
\ml{1123}{760}{0..1}
\ml{1137}{760}{0..1}
\ml{1126}{770}{+value}
\ml{1178}{760}{0..*}
\ml{1211}{760}{1}
\ml{1228}{750}{2..*}
\ml{1247}{750}{+connection}
\ml{1206}{773}{+end}
\ml{1227}{786}{0..1}
\ml{1250}{786}{+associationEnd}
\ml{1238}{811}{[ordered]}
\ml{1234}{816}{+qualifier}
\ml{1152}{781}{1}
\ml{1150}{818}{0..*}
\ml{1171}{818}{+qualifier}
\ml{1083}{785}{+value}
\ml{1138}{829}{0..1}
\ml{1178}{829}{0..*}
\ml{1214}{840}{+qualifier}

% r4c7
\node[bk,minimum width=75pt,minimum height=22pt] (r47a) at (1320.5,662) {PrimitiveAction\\(from Action Foundation)};
\node[bk,minimum width=41pt,minimum height=27pt] (r47b) at (1319.5,740.5) {LinkAction};
\node[bk,minimum width=32pt,minimum height=27pt,font=\fontsize{4.3}{5}\selectfont] (r47c) at (1433,740.5) {LinkEndData};
\node[bk,minimum width=51pt,minimum height=21pt] (r47d) at (1320.5,812.5) {ReadLinkAction};
\node[bk,minimum width=76pt,minimum height=30pt] (r47e) at (1437,817) {OutputPin\\(from Action Foundation)};
\draw[black,line width=1.1pt,-{Triangle[open,length=6pt,width=6pt]}] (r47b.north) -- (r47b.north |- r47a.south);
\draw[black,line width=1.1pt,{Diamond[length=7pt,width=5pt]}-{Straight Barb[length=3pt,width=5pt]}] (r47b.east) -- (r47c.west |- r47b.east);
\draw[black,line width=1.1pt,-{Triangle[open,length=6pt,width=6pt]}] (r47d.north) -- (r47d.north |- r47b.south);
\draw[black,line width=1.1pt,{Diamond[length=7pt,width=5pt]}-{Straight Barb[length=3pt,width=5pt]}] (r47d.east) -- (r47e.west |- r47d.east);
\node[st5,font=\fontsize{4.6}{5}\selectfont] (r47f) at (1350,733) {1};
\node[st5,font=\fontsize{4.6}{5}\selectfont] (r47g) at (1410,731) {2..*};
\node[st5,font=\fontsize{4.6}{5}\selectfont] (r47h) at (1404,749) {+endData};
\node[st5,font=\fontsize{4.6}{5}\selectfont] (r47i) at (1363,804) {0..1};
\node[st5,font=\fontsize{4.6}{5}\selectfont] (r47j) at (1396,804) {1};
\node[st5,font=\fontsize{4.6}{5}\selectfont] (r47k) at (1389,823) {+result};

% ================= ROW 5 =================
% r5c1
\node[bv,minimum width=63pt,minimum height=18pt] (p1) at (113.5,867) {PrimitiveAction\\(from Action Foundation)};
\node[bv,minimum width=62pt,minimum height=17pt] (p2) at (115,918.5) {InputPin\\(from Action Foundation)};
\node[bv,minimum width=72pt,minimum height=15pt] (p3) at (66,960.5) {ReadLinkObjectEndAction};
\node[bv,minimum width=81pt,minimum height=15pt] (p4) at (159.5,960.5) {ReadLinkObjectQualifierAction};
\node[bv,minimum width=61pt,minimum height=18pt] (p5) at (116.5,1003) {OutputPin\\(from Action Foundation)};
\node[bv,minimum width=46pt,minimum height=18pt] (p6) at (55,1044) {AssociationEnd\\(from Core)};
\node[bv,minimum width=30pt,minimum height=18pt] (p7) at (183,1044) {Attribute\\(from Core)};
\coordinate (p1b) at (113.5,892);
\draw[vl] ([xshift=-28pt]p3.north) |- (p1b) -| ([xshift=32.5pt]p4.north);
\draw[vl,-{Triangle[open,length=4pt,width=4pt]}] (p1b) -- (p1.south);
\draw[vl,dma] ([xshift=-10pt]p3.north) |- (p2.west);
\draw[vl,dma] ([xshift=13.5pt]p4.north) |- (p2.east);
\draw[vl,dma] ([xshift=-4pt]p3.south) |- ([yshift=4pt]p5.west);
\draw[vl,dma] ([xshift=7.5pt]p4.south) |- (p5.east);
\draw[vl,ar] ([xshift=-25pt]p3.south) -- ([xshift=-25pt]p3.south |- p6.north);
\draw[vl,ar] ([xshift=28.5pt]p4.south) -- ([xshift=28.5pt]p4.south |- p7.north);
\draw[vl,-{Diamond[length=4pt,width=2.6pt]}] (p7.west) -- (p6.east);
\node[st5] (p8) at (81,908) {1};
\node[st5] (p9) at (66,922) {+object};
\node[st5] (p10) at (150,908) {1};
\node[st5] (p11) at (160,925) {+object};
\node[st5] (p12) at (50,949) {0..1};
\node[st5] (p13) at (181,949) {0..1};
\node[st5] (p14) at (34,974) {0..1};
\node[st5] (p15) at (193,974) {0..1};
\node[st5] (p16) at (59,972) {1};
\node[st5] (p17) at (172,972) {0..1};
\node[st5] (p18) at (83,993) {1};
\node[st5] (p19) at (152,995) {1};
\node[st5] (p20) at (72,1005) {+result};
\node[st5] (p21) at (157,1009) {+result};
\node[st5] (p22) at (35,1024) {+end};
\node[st5] (p23) at (197,1025) {+qualifier};
\node[st5] (p24) at (185,1025) {1};
\node[st5] (p25) at (88,1037) {0..1};
\node[st5] (p26) at (146,1039) {[ordered]};
\node[st5] (p27) at (165,1040) {*};
\node[st5] (p28) at (105,1052) {+associationEnd};
\node[st5] (p29) at (153,1052) {+qualifier};

% r5c2
\node[bv,minimum width=70pt,minimum height=17pt] (u1) at (319,865.5) {PrimitiveAction\\(from Action Foundation)};
\node[bv,minimum width=68pt,minimum height=18pt] (u2) at (321,916) {InputPin\\(from Action Foundation)};
\node[bv,minimum width=77pt,minimum height=15pt] (u3) at (266.5,959.5) {ReadLinkObjectEndAction};
\node[bv,minimum width=84pt,minimum height=16pt] (u4) at (367,959) {ReadLinkObjectQualifierAction};
\node[bv,minimum width=67pt,minimum height=18pt] (u5) at (322.5,1001) {OutputPin\\(from Action Foundation)};
\node[bv,minimum width=50pt,minimum height=18pt] (u6) at (255,1042) {AssociationEnd\\(from Core)};
\node[bv,minimum width=22pt,minimum height=18pt] (u7) at (401,1042) {Attribute\\(from Core)};
\coordinate (u1b) at (319,888);
\draw[vl] ([xshift=-29.5pt]u3.north) |- (u1b) -| ([xshift=33pt]u4.north);
\draw[vl,-{Triangle[open,length=4pt,width=4pt]}] (u1b) -- (u1.south);
\draw[vl,dma] ([xshift=-9.5pt]u3.north) |- (u2.west);
\draw[vl,dma] ([xshift=19pt]u4.north) |- (u2.east);
\draw[vl,dma] ([xshift=-3.5pt]u3.south) |- ([yshift=4pt]u5.west);
\draw[vl,dma] ([xshift=10pt]u4.south) |- (u5.east);
\draw[vl,ar] ([xshift=-27.5pt]u3.south) -- ([xshift=-27.5pt]u3.south |- u6.north);
\draw[vl,ar] ([xshift=35pt]u4.south) -- ([xshift=35pt]u4.south |- u7.north);
\draw[vl,-{Diamond[length=4pt,width=2.6pt]}] (u7.west) -- (u6.east);
\node[st5] (u8) at (283,906) {1};
\node[st5] (u9) at (267,920) {+object};
\node[st5] (u10) at (359,906) {1};
\node[st5] (u11) at (374,920) {+object};
\node[st5] (u12) at (250,946) {0..1};
\node[st5] (u13) at (393,945) {0..1};
\node[st5] (u14) at (235,972) {0..1};
\node[st5] (u15) at (410,972) {0..1};
\node[st5] (u16) at (260,971) {1};
\node[st5] (u17) at (388,971) {0..1};
\node[st5] (u18) at (285,989) {1};
\node[st5] (u19) at (362,992) {1};
\node[st5] (u20) at (271,1004) {+result};
\node[st5] (u21) at (368,1006) {+result};
\node[st5] (u22) at (235,1021) {+end};
\node[st5] (u23) at (411,1022) {+qualifier};
\node[st5] (u24) at (396,1022) {1};
\node[st5] (u25) at (289,1034) {0..1};
\node[st5] (u26) at (357,1036) {[ordered]};
\node[st5] (u27) at (384,1039) {*};
\node[st5] (u28) at (307,1050) {+associationEnd};
\node[st5] (u29) at (376,1050) {+qualifier};

% r5c3
\bx{552}{853}{583}{873}{PrimitiveAction\\(from Action Foundation)}
\bx{525}{898}{556}{910}{LinkAction}
\bx{575}{895}{617}{910}{ClearAssociationAction}
\bx{618}{932}{640}{948}{Association\\(from Core)}
\bx{520}{933}{552}{944}{WriteLinkAction}
\bx{440}{934}{473}{947}{LinkEndData}
\bx[cp=6pt]{435}{989}{474}{1008}{LinkEndCreationData}
\ml[anchor=west]{436}{999}{isReplaceAll : Boolean}
\bx{493}{993}{525}{1007}{CreateLinkAction}
\bx{539}{993}{579}{1007}{DestroyLinkAction}
\bx{579}{955}{610}{973}{InputPin\\(from Action Foundation)}
\bx{491}{1037}{532}{1053}{CreateLinkObjectAction}
\bx{559}{1037}{590}{1053}{OutputPin\\(from Action Foundation)}
\bx{437}{1037}{467}{1053}{InputPin\\(from Action Foundation)}
\draw[ul,tg] (566,882)--(566,873);
\draw[ul] (541,882)--(593,882) (541,882)--(541,898) (593,882)--(593,895);
\draw[ul,ar] (617,900)--(632,900)--(632,932);
\draw[ul,tg] (539,933)--(539,910);
\draw[ul,dma] (525,906)--(461,934);
\draw[ul,tg] (454,989)--(454,947);
\draw[ul,tg] (537,968)--(537,944);
\draw[ul] (496,968)--(559,968) (496,968)--(496,993) (559,968)--(559,993);
\draw[ul,dma] (493,998)--(474,998);
\draw[ul,dma] (596,910)--(596,955);
\draw[ul,tg] (514,1037)--(514,1007);
\draw[ul,dma] (532,1045)--(559,1045);
\draw[ul,ar] (454,1008)--(454,1037);
\ml{492}{916}{+endData}
\ml{475}{926}{2..*}
\ml{531}{915}{1}
\ml{621}{904}{0..1}
\ml{627}{928}{+association}
\ml{482}{994}{2..*}
\ml{484}{1003}{+endData}
\ml{600}{950}{+input}
\ml{445}{1029}{+qualifier}

% r5c4
\bx{705}{852}{732}{872}{PrimitiveAction\\(from Action Foundation)}
\bx{705}{897}{732}{913}{VariableAction}
\bx{759}{897}{797}{913}{Variable\\(from Common Behavior)}
\bx{651}{947}{685}{963}{ReadVariableAction}
\bx{763}{945}{800}{960}{WriteVariableAction}
\bx{813}{945}{846}{962}{ClearVariableAction}
\bx{651}{995}{685}{1012}{OutputPin\\(from Action Foundation)}
\bx{688}{1035}{718}{1053}{InputPin\\(from Action Foundation)}
\bx[cp=6pt]{731}{995}{778}{1017}{AddVariableValueAction}
\ml[anchor=west]{732}{1005}{isReplaceAll : Boolean}
\bx{780}{995}{846}{1012}{RemoveVariableValueAction}
\draw[ul,tg] (718,897)--(718,872);
\draw[ul,ar] (732,903)--(759,903);
\draw[ul,tg] (718,923)--(718,913);
\draw[ul] (668,923)--(830,923) (668,923)--(668,947) (776,923)--(776,945) (830,923)--(830,945);
\draw[ul,dma] (668,963)--(668,995);
\draw[ul,dma] (763,952)--(704,952)--(704,1035);
\draw[ul,tg] (776,978)--(776,960);
\draw[ul] (752,978)--(803,978) (752,978)--(752,995) (803,978)--(803,995);
\draw[ul,dma] (752,1017)--(752,1042)--(718,1042);
\ml{740}{900}{0..*}
\ml{750}{908}{+variable}
\ml{672}{968}{0..1}
\ml{660}{988}{+result}
\ml{698}{1029}{+value}
\ml{734}{1048}{+insertAt}

% r5c5
\bx{963}{853}{997}{873}{PrimitiveAction\\(from Action Foundation)}
\bx[cp=6pt]{915}{910}{948}{938}{ReadExtentAction}
\bx[cp=6pt]{959}{910}{991}{938}{ReadSelfAction}
\bx[cp=6pt]{995}{910}{1054}{938}{StartObjectStateMachineAction}
\bx{864}{917}{885}{940}{Classifier\\(from Core)}
\bx{919}{977}{953}{997}{OutputPin\\(from Action Foundation)}
\bx{1014}{977}{1044}{997}{InputPin\\(from Action Foundation)}
\bx[cp=6pt]{976}{1022}{1027}{1040}{CallProcedureAction}
\ml[anchor=west]{977}{1032}{isSynchronous : Boolean}
\bx{885}{1028}{922}{1050}{Procedure\\(from Common Behavior)}
\draw[ul,tg] (982,895)--(982,873);
\draw[vl] (932,895)--(1027,895) (932,895)--(932,910) (975,895)--(975,910);
\draw[ul] (1027,895)--(1027,910) (997,895)--(997,1022);
\draw[ul,ar] (915,928)--(885,928);
\draw[vl,dma] (930,938)--(930,977);
\draw[vl,dma] (973,938)--(973,984)--(953,984);
\draw[ul,dma] (1031,938)--(1031,977);
\draw[ul,dma] (976,1030)--(939,1030)--(939,997);
\draw[ul,dma] (1027,1030)--(1034,1030)--(1034,997);
\draw[ul,ar] (985,1040)--(985,1046)--(922,1046);
\ml{893}{932}{+classifier}
\ml{936}{972}{+result}
\ml{962}{990}{+result}
\ml{1040}{972}{+object}
\ml{935}{1041}{+procedure}

% r5c6
\bx[lgb,cpg=3pt]{1075}{852}{1098}{865}{}
\bx[lgb,cpg=3pt]{1150}{855}{1163}{868}{}
\bx[lgb,cpg=3pt]{1071}{878}{1098}{890}{}
\bx[pub]{1119}{883}{1139}{893}{}
\bx[lgb,cpg=3pt]{1142}{888}{1166}{903}{}
\bx[lgb,cpg=3pt]{1183}{880}{1210}{890}{}
\bx[lgb,cpg=3pt]{1183}{892}{1207}{903}{}
\bx[lgb,cpg=3pt]{1183}{907}{1207}{918}{}
\bx[lgb]{1231}{890}{1248}{898}{}
\bx[lgb,cpg=3pt]{1075}{917}{1098}{937}{}
\bx[lgb,cpg=3pt]{1142}{928}{1166}{940}{}
\bx[lgb,cpg=3pt]{1150}{942}{1166}{953}{}
\bx[lgb,cpg=3pt]{1187}{933}{1207}{943}{}
\bx[lgb]{1217}{920}{1244}{928}{}
\bx[lgb,cpg=3pt]{1244}{940}{1265}{952}{}
\bx[lgb,cpg=3pt]{1098}{947}{1122}{962}{}
\bx[lgb,cpg=3pt]{1224}{958}{1244}{972}{}
\bx[lgb,cpg=3pt]{1102}{988}{1137}{1003}{}
\bx[lgb,cpg=3pt]{1140}{990}{1165}{1003}{}
\bx[lgb,cpg=3pt]{1170}{988}{1197}{1002}{}
\bx[lgb,cpg=3pt]{1200}{988}{1227}{1002}{}
\bx[lgb]{1244}{989}{1265}{1000}{}
\bx[lgb]{1109}{1007}{1122}{1023}{}
\bx[lgb,cpg=3pt]{1159}{1017}{1180}{1033}{}
\bx[lgb,cpg=3pt]{1207}{1015}{1231}{1033}{}
\bx[pkb]{1190}{1037}{1204}{1052}{}
\draw[gl] (1078,875)--(1265,875) (1086,865)--(1086,878) (1157,868)--(1157,875) (1110,875)--(1110,947) (1154,875)--(1154,888) (1196,875)--(1196,880) (1240,875)--(1240,890) (1154,903)--(1154,928) (1195,918)--(1195,933) (1230,875)--(1230,920) (1254,875)--(1254,940) (1110,962)--(1110,988) (1158,953)--(1158,990) (1212,918)--(1212,988) (1234,972)--(1234,988) (1115,1003)--(1115,1007) (1169,1002)--(1169,1017) (1219,1002)--(1219,1015) (1197,1002)--(1197,1037);
\draw[gl,dm] (1086,890)--(1086,917);
\draw[gl,ar] (1137,995)--(1140,995);
\draw[gl,ar] (1227,995)--(1244,995);
\draw[vl] (1129,893)--(1129,988);

% r5c7
\bx[cp=4pt]{1282}{920}{1302}{942}{InputPin}
\bx[cp=6pt]{1346}{920}{1397}{943}{CallOperationAction}
\ml[anchor=west]{1347}{930}{isSynchronous : Boolean}
\bx[cp=4pt]{1448}{920}{1470}{942}{OutputPin}
\bx{1383}{983}{1414}{1008}{}
\draw[ul] (1409,983)--(1409,988)--(1414,988);
\ml{1398}{993}{on the}
\ml{1398}{998}{target}
\draw[ul] (1291,920)--(1291,892)--(1458,892)--(1458,920) (1366,892)--(1366,920);
\draw[ul,ar] (1346,933)--(1302,933);
\draw[ul,dma] (1397,935)--(1448,935);
\draw[ul] (1360,943)--(1360,967)--(1458,967)--(1458,942);
\draw[ul] (1356,943)--(1356,1022)--(1461,1022)--(1461,942);
\draw[ul] (1390,967)--(1390,983);
\draw[ul,dashed] (1377,880)--(1377,868)--(1328,868)--(1328,1042)--(1411,1042);
\draw[ul,dashed] (1417,892)--(1417,920);
\draw[ul,tg] (1407,905)--(1407,892);
\ml{1350}{865}{input}
\ml{1360}{1045}{output}
\ml{1301}{904}{+input}
\ml{1303}{911}{\{ordered\}}
\ml{1287}{915}{0..*}
\ml{1437}{904}{+output}
\ml{1437}{911}{\{ordered\}}
\ml{1468}{915}{0..*}
\ml{1427}{975}{\{ordered\}}
\ml{1466}{952}{+output}

% ================= GRID =================
\foreach \x in {8,218,430,642,852,1062,1273} \draw[grid] (\x,4) -- (\x,1058);
\foreach \y in {4,214,424,636,845} \draw[grid] (8,\y) -- (1484,\y);
\end{tikzpicture}
\end{document}
